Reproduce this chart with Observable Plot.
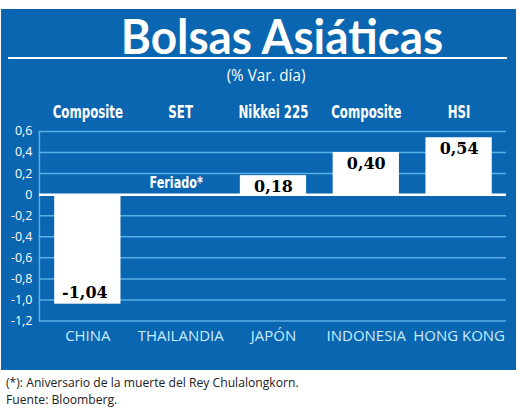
<!DOCTYPE html>
<html>
<head>
<meta charset="utf-8">
<script src="https://cdn.jsdelivr.net/npm/d3@7"></script>
<script src="https://cdn.jsdelivr.net/npm/@observablehq/plot@0.6"></script>
<style>
  html, body { margin: 0; padding: 0; background: #fff; width: 520px; height: 419px; overflow: hidden; }
  #wrap { position: relative; width: 520px; height: 419px; }
  #panel { position: absolute; left: 1px; top: 9px; width: 515px; height: 361px; background: #0a66b0; }
  .abs { position: absolute; white-space: nowrap; }
  #title { left: 0; width: 562px; top: 3px; text-align: center; color: #fff;
           font-family: "Lato", sans-serif; font-weight: 700; font-size: 48px; line-height: 48px;
           transform: scaleX(0.955); transform-origin: 281px 0; }
  #rule { left: 7px; top: 48px; width: 499px; height: 2px; background: #fff; }
  #sub { left: 0; width: 530px; top: 56px; text-align: center; color: #fff;
         font-family: "Open Sans", sans-serif; font-size: 16px; line-height: 20px;
         transform: scaleX(0.95); transform-origin: 265px 0; }
  #chart { left: 0; top: 86px; }
  .cap { left: 6px; color: #222; font-family: "Open Sans", sans-serif; font-size: 13.5px; line-height: 16px;
         transform: scaleX(0.9); transform-origin: 0 0; }
</style>
</head>
<body>
<div id="wrap">
  <div id="panel">
    <div id="title" class="abs">Bolsas Asiáticas</div>
    <div id="rule" class="abs"></div>
    <div id="sub" class="abs">(% Var. día)</div>
    <div id="chart" class="abs"></div>
  </div>
  <div class="abs cap" style="top:374px">(*): Aniversario de la muerte del Rey Chulalongkorn.</div>
  <div class="abs cap" style="top:391px">Fuente: Bloomberg.</div>
</div>
<script>
const countries = ["CHINA", "THAILANDIA", "JAPÓN", "INDONESIA", "HONG KONG"];
const indices = ["Composite", "SET", "Nikkei 225", "Composite", "HSI"];
const values = [-1.04, null, 0.18, 0.40, 0.54];
const valueLabels = ["-1,04", "", "0,18", "0,40", "0,54"];
const yTicks = [-1.2, -1.0, -0.8, -0.6, -0.4, -0.2, 0, 0.2, 0.4, 0.6];
const holidayNote = "Feriado*";
const holidayCountry = "THAILANDIA";

const data = countries.map((c, i) => ({country: c, index: indices[i], value: values[i], label: valueLabels[i]}));
const barsData = data.filter(d => d.value != null);
const fmt = v => v === 0 ? "0" : v.toFixed(1).replace(".", ",");

const cond = '"DejaVu Sans Condensed", "DejaVu Sans", sans-serif';
const serifBold = {fill: "#000", fontFamily: '"DejaVu Serif", serif', fontWeight: "bold", fontSize: 16};

const plot = Plot.plot({
  width: 516,
  height: 260,
  marginTop: 36,
  marginBottom: 34,
  marginLeft: 38,
  marginRight: 10,
  style: {background: "transparent", color: "#fff", overflow: "visible"},
  x: {domain: countries, padding: 0},
  y: {domain: [-1.2, 0.6]},
  marks: [
    Plot.ruleY(yTicks.filter(t => t !== 0), {stroke: "#5aaee6", strokeWidth: 1.5}),
    Plot.frame({anchor: "left", stroke: "#5aaee6", strokeWidth: 1.5}),
    Plot.barY(barsData, {x: "country", y: "value", fill: "#fff", insetLeft: 13.3, insetRight: 13.3}),
    Plot.ruleY([0], {stroke: "#fff", strokeWidth: 2.5}),
    Plot.text(barsData.filter(d => d.value >= 0), {x: "country", y: "value", text: "label", dy: 11, ...serifBold}),
    Plot.text(barsData.filter(d => d.value < 0), {x: "country", y: "value", text: "label", dy: -11, dx: -3, ...serifBold}),
    Plot.text([holidayNote], {x: () => holidayCountry, y: () => 0, text: d => d, dy: -12, dx: -4.5,
      fill: "#fff", fontFamily: cond, fontWeight: "bold", fontSize: 16}),
    Plot.axisY({ticks: yTicks, tickFormat: fmt, tickSize: 0, tickPadding: 7, fontSize: 12.5,
      fontFamily: '"Open Sans", sans-serif', fill: "#fff", label: null}),
    Plot.axisX({anchor: "top", tickSize: 0, tickPadding: 13, tickFormat: d => indices[countries.indexOf(d)],
      fontSize: 18, fontWeight: "bold", fontFamily: cond, fill: "#fff", label: null}),
    Plot.axisX({anchor: "bottom", tickSize: 0, tickPadding: 9, fontSize: 15,
      fontFamily: '"Open Sans", sans-serif', fill: "#c8ecff", label: null})
  ]
});
document.getElementById("chart").appendChild(plot);

// horizontally condense the condensed-bold labels (index names and holiday note)
const condensed = new Set([...indices, holidayNote]);
plot.querySelectorAll("text").forEach(t => {
  if (condensed.has(t.textContent)) {
    const tr = t.getAttribute("transform") || "";
    t.setAttribute("transform", tr + (t.textContent === holidayNote ? " scale(0.78,1)" : " scale(0.73,1)"));
  }
});
</script>
</body>
</html>
